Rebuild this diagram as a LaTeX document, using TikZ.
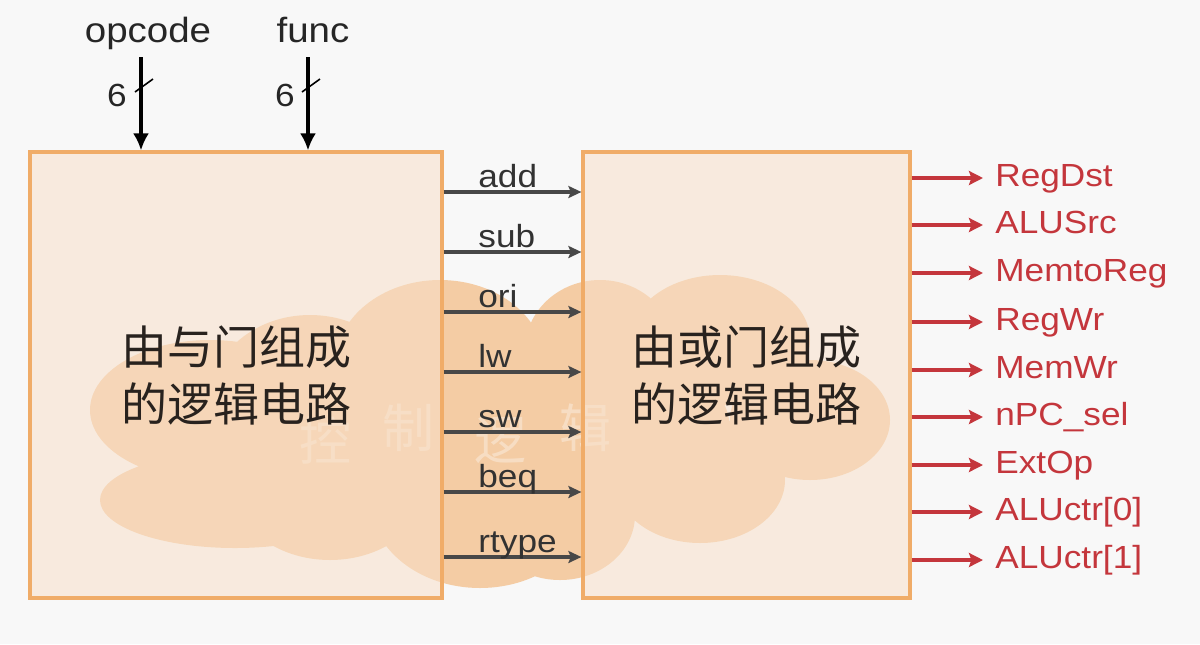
\documentclass[tikz,border=0pt]{standalone}
\usepackage{fontspec}
\setmainfont{Liberation Sans}[FakeStretch=1.1]
\newfontfamily\cjk{Noto Sans CJK SC}
\usetikzlibrary{arrows.meta}
\definecolor{bgc}{RGB}{248,248,248}
\definecolor{cloudc}{RGB}{244,204,164}
\definecolor{boxfill}{RGB}{248,224,201}
\definecolor{boxline}{RGB}{240,172,104}
\definecolor{sigred}{RGB}{196,54,60}
\definecolor{midline}{RGB}{72,72,72}
\definecolor{labc}{RGB}{50,50,50}
\definecolor{cjkc}{RGB}{40,34,30}
\begin{document}
\begin{tikzpicture}[x=0.5pt,y=-0.5pt,
  blk/.style={draw=boxline, line width=1.6pt, fill=boxfill, fill opacity=0.55,
    text opacity=1, inner sep=0pt, minimum height=223pt, text=cjkc,
    font=\cjk\fontsize{23}{28.5}\selectfont, align=center},
  toplab/.style={font=\fontsize{17.5}{20}\selectfont, text=black!85, inner sep=0pt, anchor=base},
  sixlab/.style={font=\fontsize{16}{18}\selectfont, text=black!85, inner sep=0pt},
  inarrow/.style={line width=1.6pt, black, -{Latex[length=8.5pt,width=8pt]}},
  tickline/.style={line width=0.8pt, black},
  midarrow/.style={line width=1.6pt, midline, -{Stealth[length=6.5pt,width=6pt,inset=1.2pt]}},
  midlab/.style={font=\fontsize{16}{18}\selectfont, text=labc, inner sep=0pt, anchor=base west},
  outarrow/.style={line width=1.6pt, sigred, -{Stealth[length=7pt,width=7pt,inset=1.2pt]}},
  outlab/.style={font=\fontsize{16}{18}\selectfont, text=sigred, inner sep=0pt,
    text height=11.5pt, text depth=3.5pt, anchor=west},
  wm/.style={font=\cjk\fontsize{26}{30}\selectfont, text=white, text opacity=0.35, inner sep=0pt}
]
\useasboundingbox (0,0) rectangle (1200,644);
\fill[bgc] (0,0) rectangle (1200,644);

% cloud background
\fill[cloudc]
  (210,410) ellipse [x radius=120, y radius=70]
  (235,500) ellipse [x radius=135, y radius=48]
  (330,480) ellipse [x radius=100, y radius=80]
  (310,400) ellipse [x radius=100, y radius=85]
  (440,365) ellipse [x radius=105, y radius=85]
  (480,500) ellipse [x radius=110, y radius=88]
  (600,350) ellipse [x radius=75, y radius=70]
  (720,340) ellipse [x radius=90, y radius=65]
  (810,420) ellipse [x radius=80, y radius=60]
  (700,480) ellipse [x radius=85, y radius=63]
  (560,515) ellipse [x radius=75, y radius=65]
  (560,430) ellipse [x radius=170, y radius=100];

% faint watermark
\node[wm] (w1) at (325,440) {控};
\node[wm] (w2) at (408,428) {制};
\node[wm] (w3) at (500,440) {逻};
\node[wm] (w4) at (585,428) {辑};

% blocks
\node[blk, minimum width=206pt] (L) at (236,375) {由与门组成\\的逻辑电路};
\node[blk, minimum width=163.5pt] (R) at (746.5,375) {由或门组成\\的逻辑电路};

% inputs
\node[toplab] (opc) at (148,42) {opcode};
\node[toplab] (fun) at (313,42) {func};
\coordinate (op0) at (141,57);
\coordinate (fn0) at (308,57);
\draw[inarrow] (op0) -- (op0 |- L.north);
\draw[inarrow] (fn0) -- (fn0 |- L.north);
\draw[tickline] (135,92) -- (153,79);
\draw[tickline] (302,92) -- (320,79);
\node[sixlab] (six1) at (117,95) {6};
\node[sixlab] (six2) at (285,95) {6};

% middle signals
\foreach \lab/\y in {add/192, sub/252, ori/312, lw/372, sw/432, beq/492, rtype/557}{
  \draw[midarrow] (L.east |- 0,\y) -- (R.west |- 0,\y);
  \node[midlab] (m-\lab) at (478,\y-5) {\lab};
}

% outputs
\foreach \lab/\y [count=\i] in {RegDst/178, ALUSrc/225, MemtoReg/273, RegWr/322, MemWr/370, {nPC\_sel}/417, ExtOp/465, {ALUctr[0]}/512, {ALUctr[1]}/560}{
  \node[outlab] (o\i) at (995,\y) {\lab};
  \draw[outarrow] (R.east |- o\i.west) -- ([xshift=-6pt]o\i.west);
}
\end{tikzpicture}
\end{document}
